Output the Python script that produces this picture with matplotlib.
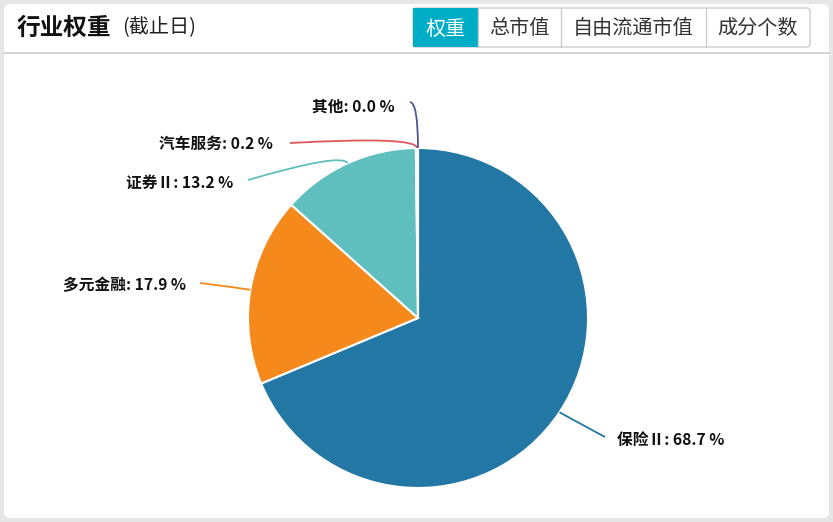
import matplotlib
matplotlib.use('Agg')
import matplotlib.pyplot as plt
import numpy as np
from matplotlib.patches import FancyBboxPatch, Rectangle
from matplotlib.path import Path
from matplotlib.patches import PathPatch

plt.rcParams['font.family'] = ['Noto Sans CJK SC', 'DejaVu Sans']

# 数据
industries = ['保险Ⅱ', '多元金融', '证券Ⅱ', '汽车服务', '其他']
weights = [68.7, 17.9, 13.2, 0.2, 0.0]
colors = ['#2377a4', '#f5891c', '#5fbebe', '#e0575b', '#4f5591']
tabs = ['权重', '总市值', '自由流通市值', '成分个数']

W, H = 833, 522
cx, cy, R = 418, 318, 170


def Y(y):
    return H - y


fig = plt.figure(figsize=(W / 100, H / 100), dpi=100, facecolor='#e6e6e6')
ax = fig.add_axes([0, 0, 1, 1])

# 卡片背景
ax.add_patch(FancyBboxPatch((4, Y(518)), W - 8, 514, boxstyle='round,pad=0,rounding_size=6',
                            fc='white', ec='none', zorder=0))
ax.plot([4, W - 4], [Y(53), Y(53)], color='#cccccc', lw=1.2, zorder=1)

# 标题
ax.text(17, Y(28), '行业权重', fontsize=17, fontweight='bold', color='#111111', va='center', ha='left')
ax.text(122, Y(28), '(截止日)', fontsize=14.5, color='#222222', va='center', ha='left')

# 标签页
tab_edges = [413, 478, 561, 706, 810]
ax.add_patch(FancyBboxPatch((413, Y(47)), 397, 39, boxstyle='round,pad=0,rounding_size=3',
                            fc='white', ec='#cccccc', lw=1, zorder=1))
ax.add_patch(Rectangle((413, Y(47)), tab_edges[1] - 413, 39, fc='#00adc7', ec='none', zorder=2))
for i, t in enumerate(tabs):
    x0, x1 = tab_edges[i], tab_edges[i + 1]
    if 0 < i:
        ax.plot([x0, x0], [Y(8), Y(47)], color='#cccccc', lw=1, zorder=2)
    ax.text((x0 + x1) / 2, Y(29), t, fontsize=14.5, color='white' if i == 0 else '#333333',
            ha='center', va='center', zorder=3)

# 饼图
wedges, _ = ax.pie(weights, colors=colors, startangle=90, counterclock=False,
                   center=(cx, Y(cy)), radius=R,
                   wedgeprops=dict(edgecolor='white', linewidth=1.5))

# 引导线和标签 (中间点半径, 终点, 文字位置, 对齐)
label_layout = [
    (172, (605, 437), (617, 440), 'left'),
    (185, (200, 283), (186, 285), 'right'),
    (182, (248, 180), (233, 183), 'right'),
    (182, (290, 143), (273, 144), 'right'),
    (215, (410, 102), (395, 107), 'right'),
]
for w, name, val, col, (r1, p2, pt, ha) in zip(wedges, industries, weights, colors, label_layout):
    mid = np.deg2rad((w.theta1 + w.theta2) / 2)
    p0 = (cx + R * np.cos(mid), Y(cy) + R * np.sin(mid))
    p1 = (cx + r1 * np.cos(mid), Y(cy) + r1 * np.sin(mid))
    path = Path([p0, p1, (p2[0], Y(p2[1]))], [Path.MOVETO, Path.CURVE3, Path.CURVE3])
    ax.add_patch(PathPatch(path, fc='none', ec=col, lw=1.3, zorder=4))
    ax.text(pt[0], Y(pt[1]), f'{name}: {val:.1f} %', fontsize=11.3, fontweight='bold',
            color='#111111', ha=ha, va='center', zorder=5)

ax.set_xlim(0, W)
ax.set_ylim(0, H)
ax.set_aspect('auto')
ax.axis('off')

fig.savefig('out.png', dpi=100, facecolor=fig.get_facecolor())
